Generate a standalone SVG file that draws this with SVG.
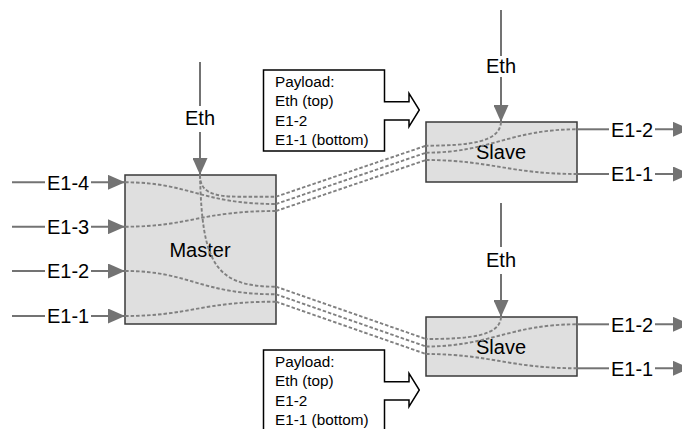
<svg xmlns="http://www.w3.org/2000/svg" width="682" height="429" viewBox="0 0 682 429">
<defs>
<style>
.lbl{font-family:"Liberation Sans",Arial,sans-serif;font-size:20px;fill:#000}
.pl{font-family:"Liberation Sans",Arial,sans-serif;font-size:15.3px;fill:#000}
.box{fill:#dfdfdf;stroke:#3a3a3a;stroke-width:1.5}
.pbox{fill:#fff;stroke:#000;stroke-width:1.5}
.wire{fill:none;stroke:#737373;stroke-width:2}
.dash{fill:none;stroke:#808080;stroke-width:1.9;stroke-dasharray:3.5 2}
</style>
<marker id="ah" markerUnits="userSpaceOnUse" markerWidth="17" markerHeight="15" refX="17" refY="7.5" orient="auto">
<path d="M0,0 L17,7.5 L0,15 Z" fill="#737373"/>
</marker>
</defs>

<g id="master">
<rect class="box" x="125" y="175" width="151" height="149"/>
<text class="lbl" x="200" y="257" text-anchor="middle">Master</text>
</g>
<g id="slave1">
<rect class="box" x="426" y="122" width="151" height="60"/>
<text class="lbl" x="501" y="159" text-anchor="middle">Slave</text>
</g>
<g id="slave2">
<rect class="box" x="426" y="317" width="151" height="59"/>
<text class="lbl" x="501" y="353.5" text-anchor="middle">Slave</text>
</g>

<g id="payload1">
<path class="pbox" d="M384.5,101.7 L384.5,70 L263.5,70 L263.5,151 L384.5,151 L384.5,120 L409,120 L409,126.7 L419.3,110 L409,93.3 L409,101.7 Z"/>
<text class="pl" x="275" y="86.5">Payload:</text>
<text class="pl" x="275" y="106">Eth (top)</text>
<text class="pl" x="275" y="125.5">E1-2</text>
<text class="pl" x="275" y="144.5">E1-1 (bottom)</text>
</g>
<g id="payload2">
<path class="pbox" d="M384.5,381.7 L384.5,350 L263.5,350 L263.5,431 L384.5,431 L384.5,400 L409,400 L409,406.7 L419.3,390 L409,373.3 L409,381.7 Z"/>
<text class="pl" x="275" y="366.5">Payload:</text>
<text class="pl" x="275" y="386">Eth (top)</text>
<text class="pl" x="275" y="405.5">E1-2</text>
<text class="pl" x="275" y="424.5">E1-1 (bottom)</text>
</g>

<g id="connectors">
<path class="wire" d="M12,182.3 H45"/><path class="wire" d="M91,182.3 H125" marker-end="url(#ah)"/>
<path class="wire" d="M12,226.7 H45"/><path class="wire" d="M91,226.7 H125" marker-end="url(#ah)"/>
<path class="wire" d="M12,271 H45"/><path class="wire" d="M91,271 H125" marker-end="url(#ah)"/>
<path class="wire" d="M12,316 H45"/><path class="wire" d="M91,316 H125" marker-end="url(#ah)"/>
<text class="lbl" x="47" y="189.5">E1-4</text>
<text class="lbl" x="47" y="234">E1-3</text>
<text class="lbl" x="47" y="278.2">E1-2</text>
<text class="lbl" x="47" y="323.2">E1-1</text>

<path class="wire" d="M200,62 V106"/><path class="wire" d="M200,132 V175" marker-end="url(#ah)"/>
<text class="lbl" x="200" y="124.5" text-anchor="middle">Eth</text>
<path class="wire" d="M501,10 V56"/><path class="wire" d="M501,77 V122" marker-end="url(#ah)"/>
<text class="lbl" x="501" y="73" text-anchor="middle">Eth</text>
<path class="wire" d="M501,203 V247"/><path class="wire" d="M501,274 V317" marker-end="url(#ah)"/>
<text class="lbl" x="501" y="267" text-anchor="middle">Eth</text>

<path class="wire" d="M577,129.3 H609"/><path class="wire" d="M655,129.3 H690" marker-end="url(#ah)"/>
<path class="wire" d="M577,174 H609"/><path class="wire" d="M655,174 H690" marker-end="url(#ah)"/>
<text class="lbl" x="611" y="136.5">E1-2</text>
<text class="lbl" x="611" y="181.2">E1-1</text>
<path class="wire" d="M577,324.3 H609"/><path class="wire" d="M655,324.3 H690" marker-end="url(#ah)"/>
<path class="wire" d="M577,368.3 H609"/><path class="wire" d="M655,368.3 H690" marker-end="url(#ah)"/>
<text class="lbl" x="611" y="331.5">E1-2</text>
<text class="lbl" x="611" y="375.5">E1-1</text>

<path class="dash" d="M200,175 C200,192 212,196.7 240,196.7 L276,196.7"/>
<path class="dash" d="M200,175 C202,262 214,286.7 276,286.7"/>
<path class="dash" d="M125,182.3 C190,182.3 200,204 276,204"/>
<path class="dash" d="M125,226.7 C190,226.7 200,211 276,211"/>
<path class="dash" d="M125,271 C190,271 200,294.3 276,294.3"/>
<path class="dash" d="M125,316 C190,316 200,301.7 276,301.7"/>
<path class="dash" d="M276,196.7 L426,145.7"/>
<path class="dash" d="M276,204 L426,152.7"/>
<path class="dash" d="M276,211 L426,160"/>
<path class="dash" d="M276,286.7 L426,339"/>
<path class="dash" d="M276,294.3 L426,346.5"/>
<path class="dash" d="M276,301.7 L426,354"/>
<path class="dash" d="M501,122 C500,142 470,145.7 426,145.7"/>
<path class="dash" d="M426,152.7 C490,152.7 510,129.3 577,129.3"/>
<path class="dash" d="M426,160 C490,160 510,174 577,174"/>
<path class="dash" d="M501,317 C500,336 470,339 426,339"/>
<path class="dash" d="M426,346.5 C490,346.5 510,324.3 577,324.3"/>
<path class="dash" d="M426,354 C490,354 510,368.3 577,368.3"/>
</g>
</svg>
